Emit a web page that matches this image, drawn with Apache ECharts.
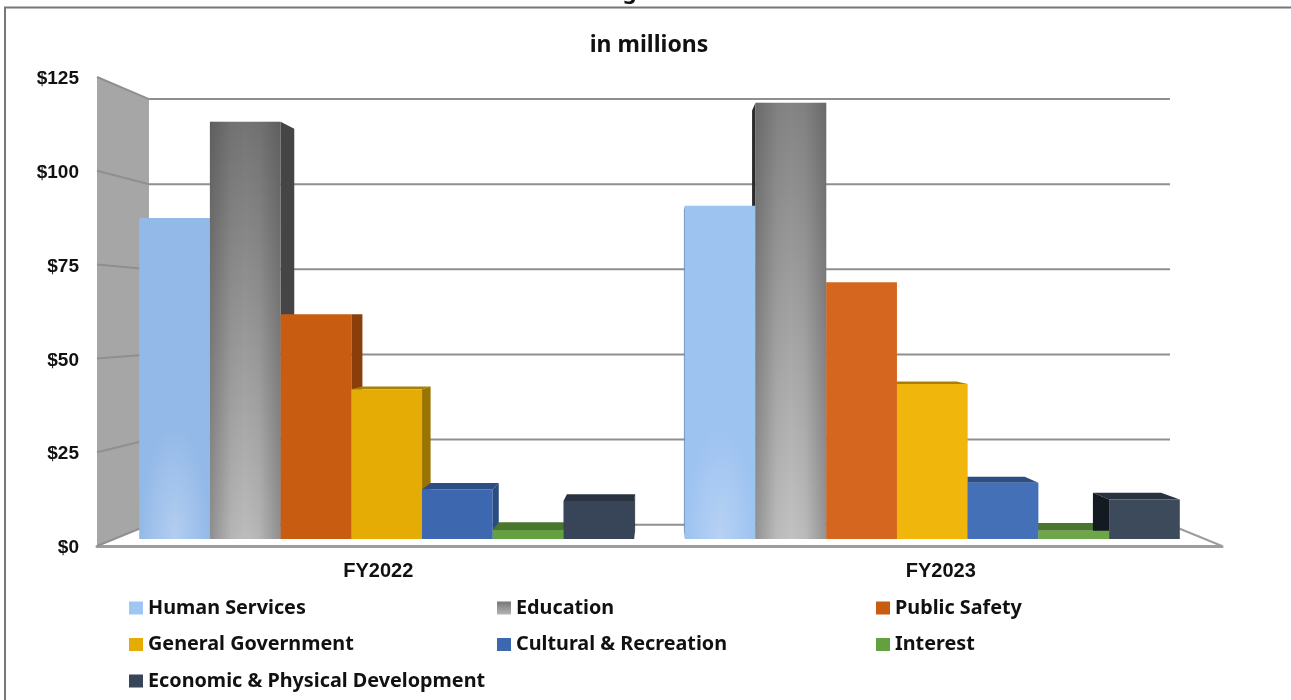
<!DOCTYPE html>
<html>
<head>
<meta charset="utf-8">
<style>html,body{margin:0;padding:0;background:#fff;overflow:hidden}#chart{width:1291px;height:700px}</style>
<script src="https://cdn.jsdelivr.net/npm/echarts@6/dist/echarts.min.js"></script>
</head>
<body>
<div id="chart"></div>
<script>
// Expenses by function, $ millions
const fiscalYears = ['FY2022', 'FY2023'];
const humanServices = [88.2, 91.6];
const education = [114.7, 119.9];
const publicSafety = [61.8, 70.6];
const generalGovernment = [41.2, 42.6];
const culturalRecreation = [13.7, 15.5];
const interest = [2.5, 2.3];
const economicDevelopment = [10.5, 10.9];
const axisTicks = [0, 25, 50, 75, 100, 125];

// Layout of the front plane and the vanishing point of the box
const plot = { left: 97, top: 77, width: 1125, height: 469 };
const vanish = { x: plot.left + plot.width / 2, y: 316 };
const WALL_DEPTH = 0.0924;
const BAR_PLANE = 0.03;
const BAR_DEPTH = 0.036;
const BAR_SHARE = 0.1296;

const project = (p, k) => [p[0] + k * (vanish.x - p[0]), p[1] + k * (vanish.y - p[1])];

const columns = [
  { name: 'Human Services', values: humanServices, legend: '#9fc5f2',
    front: ['#93b9e8', '#9dc3f1'], side: ['#5d82b0', '#5d82b0'], top: ['#7ea3d2', '#7ea3d2'], finish: 'glow' },
  { name: 'Education', values: education,
    legend: { type: 'linear', x: 0, y: 0, x2: 0, y2: 1, colorStops: [{ offset: 0, color: '#767676' }, { offset: 1, color: '#b4b4b4' }] },
    front: ['#747474', '#848484'], frontLow: ['#bcbcbc', '#c2c2c2'], side: ['#454545', '#2b2b2b'], top: ['#555555', '#555555'], finish: 'sheen' },
  { name: 'Public Safety', values: publicSafety, legend: '#c85c11',
    front: ['#c85c11', '#d5661f'], side: ['#8a3f0a', '#8a3f0a'], top: ['#a04a0c', '#a04a0c'] },
  { name: 'General Government', values: generalGovernment, legend: '#e5ac05',
    front: ['#e5ac05', '#f0b60c'], side: ['#9a7300', '#9a7300'], top: ['#a98005', '#a98005'] },
  { name: 'Cultural & Recreation', values: culturalRecreation, legend: '#3d67ae',
    front: ['#3d67ae', '#4470b8'], side: ['#2a4a80', '#2a4a80'], top: ['#2d4d85', '#2d4d85'] },
  { name: 'Interest', values: interest, legend: '#63a03f',
    front: ['#63a03f', '#6ca648'], side: ['#3f6a28', '#3f6a28'], top: ['#4a762e', '#4a762e'] },
  { name: 'Economic & Physical Development', values: economicDevelopment, legend: '#384558',
    front: ['#384558', '#3d4a5c'], side: ['#1c2530', '#141a22'], top: ['#29333f', '#29333f'] }
];

function renderBar(column, slot, params, api) {
  const cat = api.value(0);
  const val = api.value(1);
  const band = api.size([1, 0])[0];
  const barW = band * BAR_SHARE;
  const cx = api.coord([cat, 0])[0] + (slot - 3) * barW;
  const l = cx - barW / 2;
  const r = cx + barW / 2;
  const yTop = api.coord([cat, val])[1];
  const yBase = api.coord([cat, 0])[1];

  const [fl, ft] = project([l, yTop], BAR_PLANE);
  const [fr] = project([r, yTop], BAR_PLANE);
  const fb = project([l, yBase], BAR_PLANE)[1];
  const back = p => project(p, BAR_DEPTH);
  const children = [];

  // Top and side faces sit behind every front face
  if (ft > vanish.y) {
    children.push({ type: 'polygon', z2: 1,
      shape: { points: [[fl, ft], [fr, ft], back([fr, ft]), back([fl, ft])] },
      style: { fill: column.top[cat] } });
  }
  const sideX = fr < vanish.x ? fr : (fl > vanish.x ? fl : null);
  if (sideX !== null) {
    children.push({ type: 'polygon', z2: 1,
      shape: { points: [[sideX, ft], back([sideX, ft]), back([sideX, fb]), [sideX, fb]] },
      style: { fill: column.side[cat] } });
  }

  const w = fr - fl;
  const h = fb - ft;
  let fill = column.front[cat];
  if (column.finish === 'sheen') {
    fill = { type: 'linear', x: 0, y: 0, x2: 0, y2: 1, colorStops: [
      { offset: 0, color: column.front[cat] }, { offset: 1, color: column.frontLow[cat] }] };
  }
  children.push({ type: 'rect', z2: 5, shape: { x: fl, y: ft, width: w, height: h }, style: { fill } });
  if (column.finish === 'sheen') {
    children.push({ type: 'rect', z2: 6, shape: { x: fl, y: ft, width: w, height: h },
      style: { fill: { type: 'linear', x: 0, y: 0, x2: 1, y2: 0, colorStops: [
        { offset: 0, color: 'rgba(50,50,50,0.33)' }, { offset: 0.3, color: 'rgba(50,50,50,0.05)' },
        { offset: 0.5, color: 'rgba(50,50,50,0)' }, { offset: 0.7, color: 'rgba(50,50,50,0.05)' },
        { offset: 1, color: 'rgba(50,50,50,0.33)' }] } } });
  }
  if (column.finish === 'glow') {
    const stretch = 3.2;
    const boxH = Math.min(h, 135) / stretch;
    children.push({ type: 'rect', z2: 6, x: fl, y: fb, scaleY: stretch,
      shape: { x: 0, y: -boxH, width: w, height: boxH },
      style: { fill: { type: 'radial', x: 0.5, y: 1, r: (w / 2) / Math.min(w, boxH), colorStops: [
        { offset: 0, color: 'rgba(200,220,245,0.6)' }, { offset: 1, color: 'rgba(200,220,245,0)' }] } } });
  }
  return { type: 'group', children };
}

// Side wall, its grid lines, and the edge of the floor
function renderWall(params, api) {
  const wallColor = '#a6a6a6';
  const lineColor = '#9d9d9d';
  const right = plot.left + plot.width;
  const yOf = v => api.coord([0, v])[1];
  const top = yOf(125);
  const base = yOf(0);
  const children = [
    { type: 'polygon', shape: { points: [[plot.left, top], project([plot.left, top], WALL_DEPTH),
      project([plot.left, base], WALL_DEPTH), [plot.left, base]] }, style: { fill: wallColor } },
    { type: 'line', shape: { x1: right, y1: base, x2: project([right, base], WALL_DEPTH)[0], y2: project([right, base], WALL_DEPTH)[1] },
      style: { stroke: lineColor, lineWidth: 2 } }
  ];
  axisTicks.forEach(v => {
    const y = yOf(v);
    const a = project([plot.left, y], WALL_DEPTH);
    const b = project([right, y], WALL_DEPTH);
    children.push({ type: 'polyline', shape: { points: [[plot.left, y], a, b] },
      style: { stroke: '#8f8f8f', lineWidth: 2, fill: 'none' } });
  });
  return { type: 'group', children };
}

const legendFont = { fontFamily: 'Noto Sans', fontWeight: 'bold', fontSize: 19.8, color: '#111111' };
const legendColumn = (left, names) => ({
  show: true, orient: 'vertical', left, top: 598, itemWidth: 14, itemHeight: 13, itemGap: 16.5,
  icon: 'rect', selectedMode: false, padding: 0, data: names, textStyle: legendFont
});

const chart = echarts.init(document.getElementById('chart'), null, { renderer: 'canvas' });
chart.setOption({
  animation: false,
  backgroundColor: '#ffffff',
  title: {
    text: 'in millions', left: 644, top: 29, textAlign: 'center',
    textStyle: { fontFamily: 'Noto Sans', fontWeight: 'bold', fontSize: 23, color: '#111111' }
  },
  graphic: [
    { type: 'polyline', silent: true, shape: { points: [[5, 700], [5, 7.5], [1291, 7.5]] },
      style: { stroke: '#777777', lineWidth: 2, fill: 'none' } },
    { type: 'text', silent: true, x: 604, y: -18,
      style: { text: 'Figure', fontFamily: 'Noto Sans', fontWeight: 'bold', fontSize: 22, fill: '#111111' } }
  ],
  grid: { left: plot.left, top: plot.top, width: plot.width, height: plot.height },
  xAxis: {
    type: 'category', data: fiscalYears,
    axisLine: { lineStyle: { color: '#9d9d9d', width: 3 } },
    axisTick: { show: false },
    axisLabel: { margin: 15, fontFamily: 'Liberation Sans', fontWeight: 'bold', fontSize: 20, color: '#111111' }
  },
  yAxis: {
    type: 'value', min: 0, max: 125, interval: 25,
    axisLine: { show: false }, axisTick: { show: false }, splitLine: { show: false },
    axisLabel: { margin: 18, verticalAlign: 'top', lineHeight: 4, fontFamily: 'Liberation Sans', fontWeight: 'bold', fontSize: 19, color: '#111111',
      formatter: v => '$' + v }
  },
  legend: [
    legendColumn(129, ['Human Services', 'General Government', 'Economic & Physical Development']),
    legendColumn(497, ['Education', 'Cultural & Recreation']),
    legendColumn(876, ['Public Safety', 'Interest'])
  ],
  series: [
    { type: 'custom', name: 'Wall', silent: true, z: 1, data: [[0, 0]], clip: false,
      encode: { x: 0, y: 1 }, renderItem: renderWall }
  ].concat(columns.map((column, slot) => ({
    type: 'custom', name: column.name, silent: true, z: 2, clip: false,
    itemStyle: { color: column.legend },
    encode: { x: 0, y: 1 },
    data: column.values.map((v, i) => [i, v]),
    renderItem: (params, api) => renderBar(column, slot, params, api)
  })))
});
</script>
</body>
</html>
